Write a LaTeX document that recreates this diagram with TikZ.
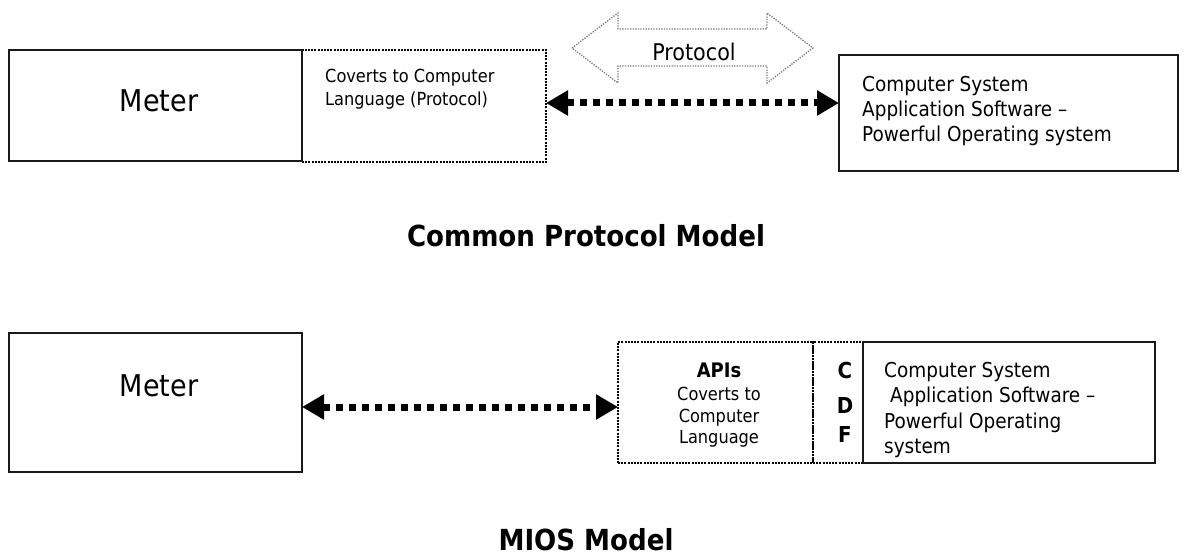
\documentclass[tikz,border=0pt]{standalone}
\usepackage{fontspec}
\setmainfont{DejaVu Sans Condensed}
\usetikzlibrary{arrows.meta}
\definecolor{boxline}{HTML}{1A1A1A}
\definecolor{hollow}{HTML}{7A7A7A}
\begin{document}
\begin{tikzpicture}[x=1pt,y=-1pt,
  solidbox/.style={draw=boxline, line width=1.6pt, inner sep=0pt, outer sep=0pt, anchor=north west},
  dotbox/.style={draw=black, line width=2pt, dash pattern=on 2pt off 1.2pt, inner sep=0pt, outer sep=0pt, anchor=north west},
  link/.style={line width=7pt, dash pattern=on 7pt off 6pt,
    {Triangle[length=22pt,width=24pt]}-{Triangle[length=22pt,width=24pt]}},
  bigtext/.style={font=\fontsize{30}{36}\selectfont, inner sep=0pt},
  smalltext/.style={font=\fontsize{18}{23}\selectfont, inner sep=0pt, align=left, anchor=north west},
  systext/.style={font=\fontsize{20.5}{25}\selectfont, inner sep=0pt, align=left, anchor=north west},
  cdfletter/.style={font=\fontsize{22}{25}\selectfont\bfseries, inner sep=0pt},
  caption/.style={font=\fontsize{29}{34}\selectfont\bfseries, inner sep=0pt}]
\useasboundingbox (0,0) rectangle (1184,556);
\fill[white] (0,0) rectangle (1184,556);

% ---------- Common protocol model ----------
\node[dotbox, minimum width=244pt, minimum height=112pt] (conv) at (302,50) {};
\node[solidbox, minimum width=293pt, minimum height=111pt] (meterA) at (9,50) {};
\node[solidbox, minimum width=339pt, minimum height=116pt] (sysA) at (839,55) {};

\node[bigtext] (meterAtxt) at (159,101) {Meter};
\node[smalltext] (convtxt) at (325,69) {Coverts to Computer\\Language (Protocol)};
\node[systext] (sysAtxt) at (862,76) {Computer System\\Application Software –\\Powerful Operating system};

% hollow double arrow labelled Protocol
\draw[hollow, line width=1.3pt, dash pattern=on 1.3pt off 1.3pt, line join=miter]
  (572,48) -- (618,13) -- (618,29) -- (767,29) -- (767,13) -- (813,48)
  -- (767,83) -- (767,66) -- (618,66) -- (618,83) -- cycle;
\node[font=\fontsize{23}{28}\selectfont, inner sep=0pt] (proto) at (694,52) {Protocol};

\coordinate (rowA) at (0,103);
\draw[link] (conv.east |- rowA) -- (sysA.west |- rowA);

\node[caption] (capA) at (586,236) {Common Protocol Model};

% ---------- MIOS model ----------
\node[dotbox, minimum width=195pt, minimum height=121pt] (api) at (618,342) {};
\node[dotbox, minimum width=50pt, minimum height=121pt] (cdf) at (813,342) {};
\node[solidbox, minimum width=292pt, minimum height=121pt] (sysB) at (863,342) {};
\node[solidbox, minimum width=293pt, minimum height=139pt] (meterB) at (9,333) {};

\node[bigtext] (meterBtxt) at (159,386) {Meter};
\node[font=\fontsize{20}{22}\selectfont\bfseries, inner sep=0pt] (apihead) at (719,370) {APIs};
\node[font=\fontsize{18}{21.5}\selectfont, inner sep=0pt, align=center, anchor=north] (apitxt) at (719,387)
  {Coverts to\\Computer\\Language};
\node[cdfletter] (cdfC) at (845,370) {C};
\node[cdfletter] (cdfD) at (845,405) {D};
\node[cdfletter] (cdfF) at (845,434) {F};
\node[systext, font=\fontsize{20.5}{25.5}\selectfont] (sysBtxt) at (884,362)
  {Computer System\\\hspace*{6pt}Application Software –\\Powerful Operating\\system};

\coordinate (rowB) at (0,407);
\draw[link] (meterB.east |- rowB) -- (api.west |- rowB);

\node[caption] (capB) at (586,540) {MIOS Model};
\end{tikzpicture}
\end{document}
